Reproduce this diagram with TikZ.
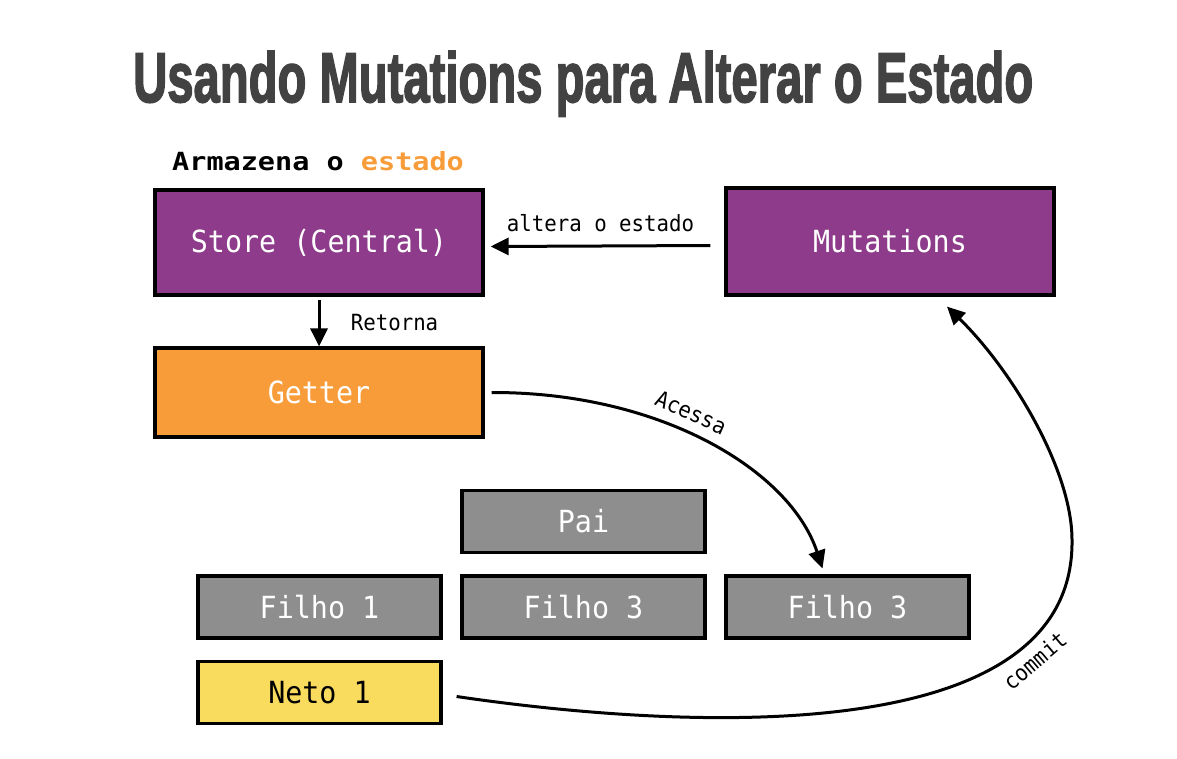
\documentclass[tikz,border=0pt]{standalone}
\usepackage{fontspec}
\usetikzlibrary{arrows.meta}
\newfontfamily\monof[FakeStretch=0.93]{DejaVu Sans Mono}
\newfontfamily\headf[FakeStretch=1.14]{DejaVu Sans Mono}
\newfontfamily\titlef[BoldFeatures={FakeBold=2.5}]{Liberation Sans}
\definecolor{purplec}{RGB}{141,59,138}
\definecolor{orangec}{RGB}{248,156,58}
\definecolor{grayc}{RGB}{142,142,142}
\definecolor{yellowc}{RGB}{249,219,93}
\definecolor{titlegray}{RGB}{66,66,66}
\begin{document}
\begin{tikzpicture}[x=1pt,y=-1pt,
  box/.style={draw=black, line width=3.2pt, inner sep=0pt, text=white,
    font={\monof\fontsize{30.5pt}{34pt}\selectfont}},
  bigbox/.style={box, minimum width=328pt},
  smallbox/.style={box, minimum width=243pt, minimum height=62pt},
  conn/.style={line width=3pt, -{Triangle[length=18pt,width=17pt]}},
  lbl/.style={font={\monof\fontsize{22.3pt}{26pt}\selectfont}, text=black}]
\useasboundingbox (0,0) rectangle (1177,758);
\fill[white] (0,0) rectangle (1177,758);

\node[anchor=base west, inner sep=0pt, text=titlegray] (title) at (133,102)
  {\resizebox{900pt}{51pt}{\titlef\bfseries Usando Mutations para Alterar o Estado}};
\node[anchor=base west, inner sep=0pt, font={\headf\bfseries\fontsize{25pt}{30pt}\selectfont}] (head) at (172,170)
  {Armazena o \textcolor{orangec}{estado}};

\node[bigbox, fill=purplec, minimum height=105pt] (store) at (319,242.5) {Store (Central)};
\node[bigbox, fill=purplec, minimum height=107pt] (mut) at (890,241.5) {Mutations};
\node[bigbox, fill=orangec, minimum height=89pt] (getter) at (319,392.5) {Getter};
\node[smallbox, fill=grayc] (pai) at (583.5,521.5) {Pai};
\node[smallbox, fill=grayc] (f1) at (319.5,607) {Filho 1};
\node[smallbox, fill=grayc] (f3a) at (583.5,607) {Filho 3};
\node[smallbox, fill=grayc] (f3b) at (847.5,607) {Filho 3};
\node[smallbox, fill=yellowc, text=black] (neto) at (319.5,692.5) {Neto 1};

\draw[conn] ([xshift=-14pt,yshift=-4pt]mut.west) -- node[lbl, above=9pt] (l1) {altera o estado} ([xshift=6pt,yshift=-4pt]store.east);
\draw[conn] ([yshift=-3pt]store.south) -- node[lbl, right=27pt] (l2) {Retorna} (getter.north);
\draw[conn] ([xshift=7pt]getter.east) .. controls (660,392) and (790,470) .. node[lbl, pos=0.43, sloped, above=7pt] (l3) {Acessa} ([xshift=-25pt,yshift=6pt]f3b.north);
\draw[conn] ([xshift=14pt,yshift=-4pt]neto.east) .. controls (650,725) and (1075,760) .. node[lbl, pos=0.79, sloped, below=4pt] (l4) {commit} (1072,540) .. controls (1072,470) and (1012,370) .. ([xshift=57pt,yshift=-10pt]mut.south);
\end{tikzpicture}
\end{document}
